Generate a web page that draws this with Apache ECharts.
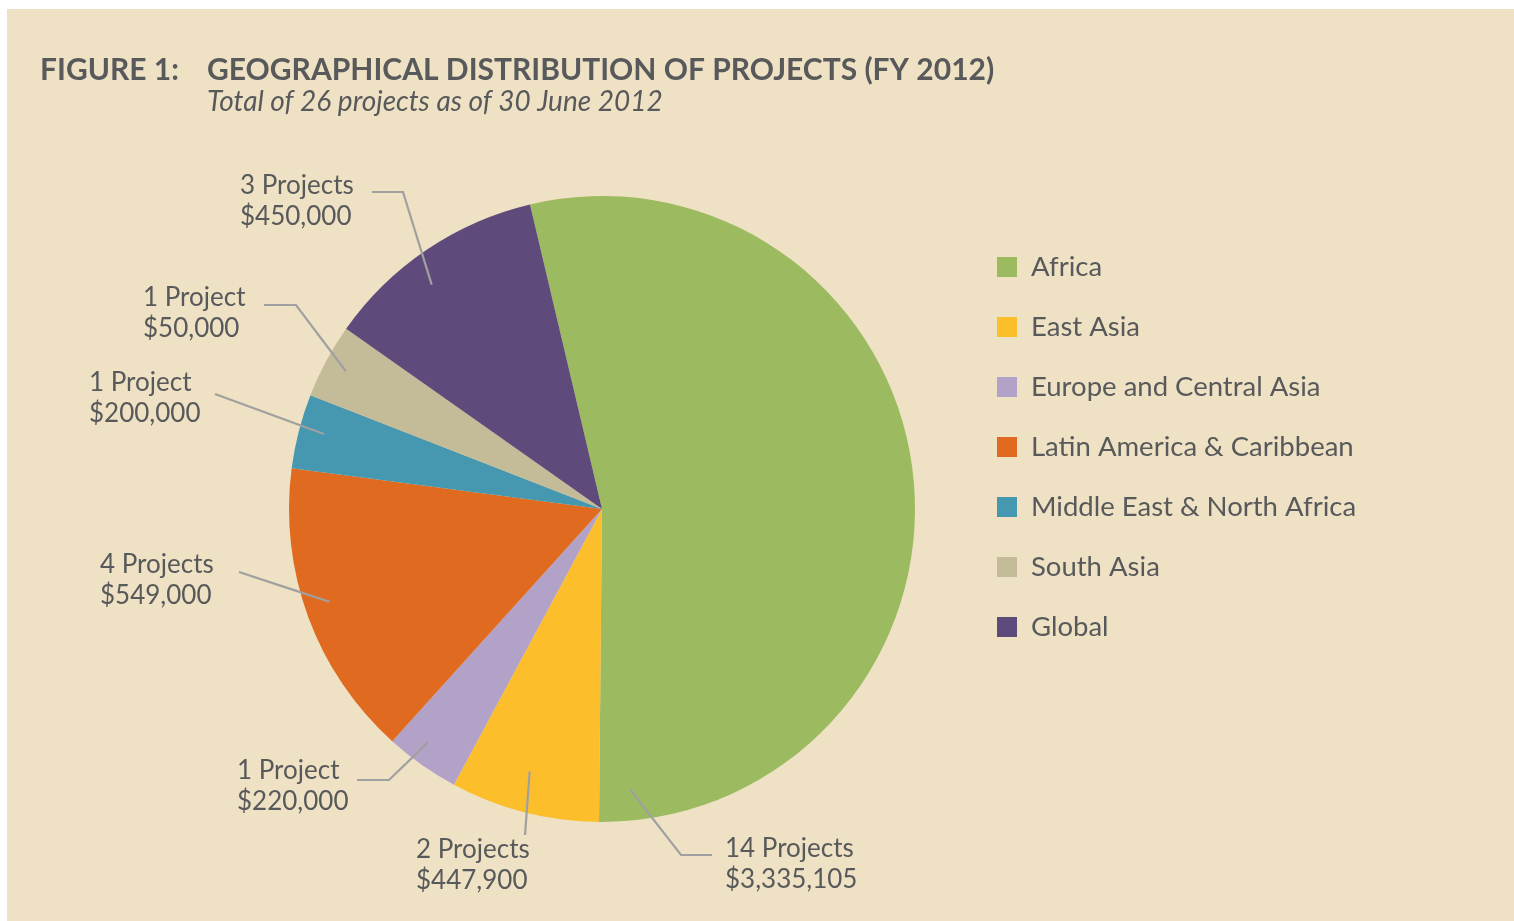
<!DOCTYPE html>
<html>
<head>
<meta charset="utf-8">
<style>
  html, body { margin: 0; padding: 0; background: #ffffff; }
  #chart { position: absolute; left: 7px; top: 9px; width: 1507px; height: 912px; }
</style>
<script src="https://cdn.jsdelivr.net/npm/echarts@6/dist/echarts.min.js"></script>
</head>
<body>
<div id="chart"></div>
<script>
const regions = ['Africa', 'East Asia', 'Europe and Central Asia', 'Latin America & Caribbean',
  'Middle East & North Africa', 'South Asia', 'Global'];
const projectCounts = [14, 2, 1, 4, 1, 1, 3];
const fundingUSD = [3335105, 447900, 220000, 549000, 200000, 50000, 450000];
const sliceColors = ['#9cba5f', '#fdbe2c', '#b3a2c8', '#e06b20', '#4598b0', '#c4bb98', '#5f4b7b'];

const TEXT = '#58595b';
const FONT = 'Lato, "Noto Sans", sans-serif';
const CX = 595, CY = 500, R = 313;

// where each label sits: anchor inside slice (deg from top, share of radius), elbow, line end, text (left, middle)
const labelSpots = [
  { angle: 174.3, reach: 0.90, elbow: [674, 846], end: [705, 846], text: [718, 855] },
  { angle: 195.4, reach: 0.87, elbow: null, end: [518, 826], text: [409, 856] },
  { angle: 216.7, reach: 0.93, elbow: [382, 771], end: [350, 771], text: [230, 777] },
  { angle: 251.2, reach: 0.92, elbow: null, end: [232, 563], text: [93, 571] },
  { angle: 285.1, reach: 0.92, elbow: null, end: [208, 385], text: [82, 389] },
  { angle: 298.3, reach: 0.93, elbow: [289, 296], end: [257, 296], text: [136, 304] },
  { angle: 322.8, reach: 0.90, elbow: [396, 183], end: [365, 183], text: [233, 192] }
];

let myChart = echarts.init(document.getElementById('chart'));

function money(v) {
  return '$' + v.toString().replace(/\B(?=(\d{3})+(?!\d))/g, ',');
}

const pieData = regions.map((name, i) => ({ name, value: projectCounts[i] }));

let option = {
  backgroundColor: '#efe1c4',
  animation: false,
  title: [
    {
      text: 'FIGURE 1:',
      left: 33,
      top: 46,
      padding: 0,
      textStyle: { color: TEXT, fontFamily: FONT, fontWeight: 'bold', fontSize: 30 }
    },
    {
      text: 'GEOGRAPHICAL DISTRIBUTION OF PROJECTS (FY 2012)',
      subtext: 'Total of 26 projects as of 30 June 2012',
      left: 200,
      top: 46,
      padding: 0,
      itemGap: 3,
      textStyle: { color: TEXT, fontFamily: FONT, fontWeight: 'bold', fontSize: 30 },
      subtextStyle: { color: TEXT, fontFamily: FONT, fontStyle: 'italic', fontSize: 28 }
    }
  ],
  legend: {
    orient: 'vertical',
    left: 990,
    top: 244,
    padding: 0,
    itemWidth: 20,
    itemHeight: 20,
    itemGap: 32,
    icon: 'rect',
    data: regions,
    textStyle: { color: TEXT, fontFamily: FONT, fontSize: 27.5, lineHeight: 27, padding: [0, 0, 0, 9] }
  },
  series: [
    {
      name: 'Projects',
      type: 'pie',
      center: [CX, CY],
      radius: R,
      startAngle: 103.3,
      clockwise: true,
      color: sliceColors,
      label: { show: false },
      labelLine: { show: false },
      data: pieData
    },
    {
      // same slices, transparent, only to carry labels and leader lines above the pie
      name: 'Labels',
      type: 'pie',
      z: 3,
      silent: true,
      center: [CX, CY],
      radius: R,
      startAngle: 103.3,
      clockwise: true,
      avoidLabelOverlap: false,
      itemStyle: { color: 'rgba(0,0,0,0)' },
      label: {
        show: true,
        position: 'outside',
        color: TEXT,
        fontFamily: FONT,
        fontSize: 26,
        lineHeight: 31,
        formatter: p => projectCounts[p.dataIndex] + (projectCounts[p.dataIndex] === 1 ? ' Project' : ' Projects') +
          '\n' + money(fundingUSD[p.dataIndex])
      },
      labelLine: {
        show: true,
        showAbove: true,
        smooth: false,
        lineStyle: { color: '#a0a0a0', width: 2.2 }
      },
      labelLayout(params) {
        const s = labelSpots[params.dataIndex];
        const a = s.angle * Math.PI / 180;
        const start = [CX + R * s.reach * Math.sin(a), CY - R * s.reach * Math.cos(a)];
        const mid = s.elbow || [(start[0] + s.end[0]) / 2, (start[1] + s.end[1]) / 2];
        return {
          x: s.text[0],
          y: s.text[1],
          align: 'left',
          verticalAlign: 'middle',
          labelLinePoints: [start, mid, s.end]
        };
      },
      data: pieData
    }
  ]
};
myChart.setOption(option);
</script>
</body>
</html>
